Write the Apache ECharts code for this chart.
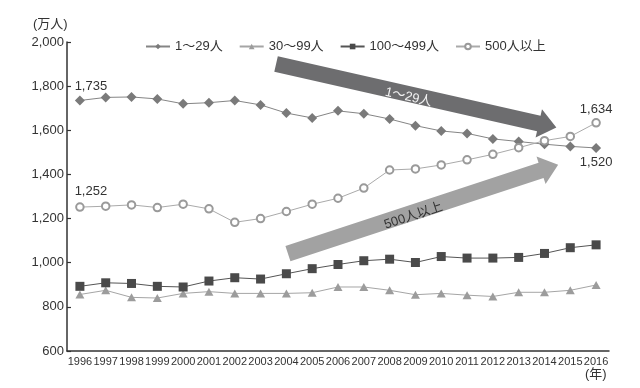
<!DOCTYPE html>
<html><head><meta charset="utf-8">
<script src="https://cdn.jsdelivr.net/npm/echarts@6/dist/echarts.min.js"></script>
<style>html,body{margin:0;padding:0;background:#fff}#c{width:640px;height:388px}</style>
</head><body><div id="c"></div>
<script>
const years = ['1996','1997','1998','1999','2000','2001','2002','2003','2004','2005','2006','2007','2008','2009','2010','2011','2012','2013','2014','2015','2016'];
const seriesNames = ['1～29人','30～99人','100～499人','500人以上'];
const small = [1735,1749,1751,1742,1720,1725,1735,1715,1678,1656,1688,1675,1651,1621,1597,1586,1561,1549,1537,1527,1520];
const mid = [856,875,843,840,861,869,861,861,861,864,890,890,875,855,861,853,847,866,866,875,899];
const large = [893,909,906,893,890,917,932,926,950,973,992,1009,1016,1001,1028,1021,1021,1024,1042,1068,1081];
const huge = [1252,1256,1262,1250,1265,1244,1183,1200,1232,1265,1292,1338,1420,1425,1443,1466,1491,1521,1553,1572,1634];
const yTicks = [600, 2000, 200]; // min, max, interval

const NUM = "'Liberation Sans','Noto Sans CJK JP',sans-serif";
const fmt = v => v.toLocaleString('en-US');

function withLabels(arr, first, last) {
  return arr.map((v, i) => {
    if (i === 0 && first) return {value: v, label: Object.assign({show: true, formatter: p => fmt(p.value)}, first)};
    if (i === arr.length - 1 && last) return {value: v, label: Object.assign({show: true, formatter: p => fmt(p.value)}, last)};
    return v;
  });
}
const lblStyle = {fontFamily: NUM, fontSize: 13, color: '#333'};

const chart = echarts.init(document.getElementById('c'), null, {renderer: 'canvas'});
const option = {
  animation: false,
  backgroundColor: '#fff',
  grid: {left: 67, right: 31, top: 42, bottom: 37, containLabel: false},
  legend: {
    left: 140, top: 35, itemWidth: 24, itemHeight: 7, itemGap: 16,
    textStyle: {fontFamily: NUM, fontSize: 13, color: '#333'},
    data: seriesNames
  },
  xAxis: {
    type: 'category', data: years, boundaryGap: true,
    axisLine: {lineStyle: {color: '#333', width: 1.5}},
    axisTick: {inside: true, length: 6, lineStyle: {color: '#333', width: 1.2}},
    axisLabel: {fontFamily: NUM, fontSize: 11, color: '#333', margin: 5, interval: 0}
  },
  yAxis: {
    type: 'value', min: yTicks[0], max: yTicks[1], interval: yTicks[2],
    axisLine: {show: true, lineStyle: {color: '#333', width: 1.5}},
    axisTick: {show: true, inside: true, length: 4, lineStyle: {color: '#333', width: 1.2}},
    splitLine: {show: false},
    axisLabel: {fontFamily: NUM, fontSize: 13, color: '#333', margin: 3, formatter: v => fmt(v)}
  },
  series: [
    {name: seriesNames[0], type: 'line', symbol: 'diamond', symbolSize: 10,
     itemStyle: {color: '#7a7a7a'}, lineStyle: {color: '#858585', width: 1},
     data: withLabels(small,
       Object.assign({position: 'top', distance: 3, offset: [11, 0]}, lblStyle),
       Object.assign({position: 'bottom', distance: 3, offset: [0, 0]}, lblStyle))},
    {name: seriesNames[1], type: 'line', symbol: 'triangle', symbolSize: [9, 8],
     itemStyle: {color: '#9c9c9c'}, lineStyle: {color: '#a5a5a5', width: 1},
     data: mid},
    {name: seriesNames[2], type: 'line', symbol: 'rect', symbolSize: 9,
     itemStyle: {color: '#4a4a4a'}, lineStyle: {color: '#555', width: 1},
     data: large},
    {name: seriesNames[3], type: 'line', symbol: 'emptyCircle', symbolSize: 7.5,
     itemStyle: {color: '#9a9a9a', borderWidth: 1}, lineStyle: {color: '#aaa', width: 1},
     data: withLabels(huge,
       Object.assign({position: 'top', distance: 4, offset: [11, 0]}, lblStyle),
       Object.assign({position: 'top', distance: 2, offset: [0, 0]}, lblStyle))}
  ]
};
chart.setOption(option);

// annotation arrows, anchored in data space (category index, value)
function toPx(idx, v) {
  const a = chart.convertToPixel({gridIndex: 0}, [0, v]);
  const b = chart.convertToPixel({gridIndex: 0}, [1, v]);
  return [a[0] + idx * (b[0] - a[0]), a[1]];
}
function arrow(s, t, w, hw, hl, fill) {
  const dx = t[0] - s[0], dy = t[1] - s[1];
  const L = Math.hypot(dx, dy), ux = dx / L, uy = dy / L, nx = -uy, ny = ux;
  const h = [t[0] - ux * hl, t[1] - uy * hl];
  const pts = [
    [s[0] + nx * w, s[1] + ny * w], [h[0] + nx * w, h[1] + ny * w], [h[0] + nx * hw, h[1] + ny * hw],
    t, [h[0] - nx * hw, h[1] - ny * hw], [h[0] - nx * w, h[1] - ny * w], [s[0] - nx * w, s[1] - ny * w]
  ];
  return {type: 'polygon', shape: {points: pts}, style: {fill: fill}, z: 10};
}
const a1s = toPx(7.6, 1900), a1t = toPx(18.46, 1613);
const a2s = toPx(8.06, 1041), a2t = toPx(18.53, 1444);
const t1 = toPx(12.73, 1750), t2 = toPx(12.92, 1212);
const r1 = -Math.atan2(a1t[1] - a1s[1], a1t[0] - a1s[0]);
const r2 = -Math.atan2(a2t[1] - a2s[1], a2t[0] - a2s[0]);
chart.setOption({
  graphic: [
    arrow(a1s, a1t, 8, 14.5, 18, '#6d6d6f'),
    arrow(a2s, a2t, 8, 14.5, 18, '#a2a2a2'),
    {type: 'text', x: t1[0], y: t1[1], rotation: r1, z: 11,
     style: {text: '1～29人', fill: '#f2f2f2', font: "13px " + NUM, align: 'center', verticalAlign: 'middle'}},
    {type: 'text', x: t2[0], y: t2[1], rotation: r2, z: 11,
     style: {text: '500人以上', fill: '#333', font: "13px " + NUM, align: 'center', verticalAlign: 'middle'}},
    {type: 'text', left: 33, top: 18, style: {text: '(万人)', fill: '#333', font: "13px " + NUM}},
    {type: 'text', left: 585, top: 368, style: {text: '(年)', fill: '#333', font: "13px " + NUM}}
  ]
});
</script></body></html>
